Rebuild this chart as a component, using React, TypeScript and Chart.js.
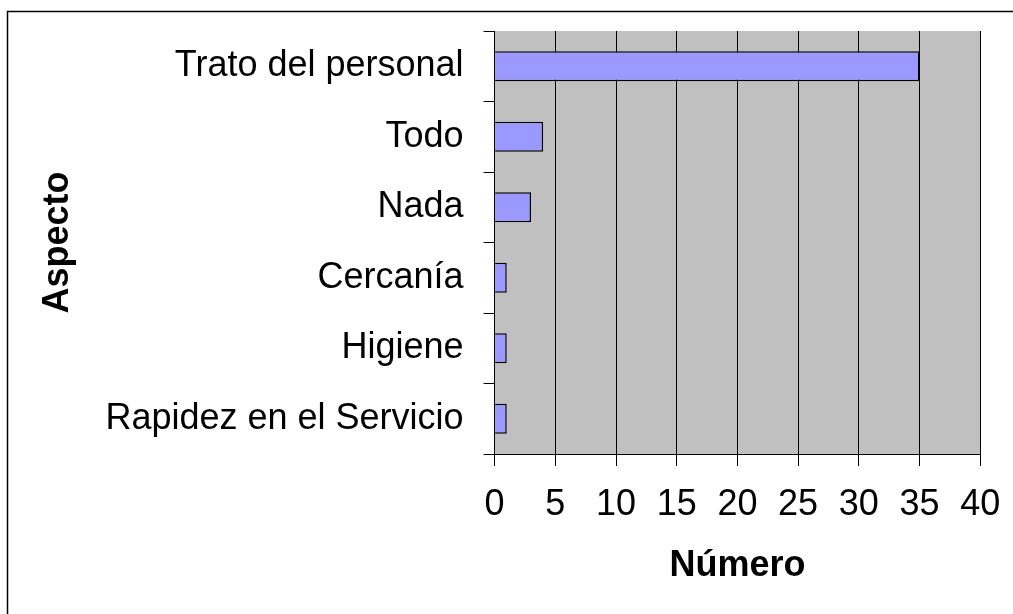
import React, { useEffect, useRef } from "react";
import { Chart, registerables } from "chart.js";

Chart.register(...registerables);

const categories = [
  "Trato del personal",
  "Todo",
  "Nada",
  "Cercanía",
  "Higiene",
  "Rapidez en el Servicio",
];
const counts = [35, 4, 3, 1, 1, 1];
const xTitle = "Número";
const yTitle = "Aspecto";

const FONT = "'Liberation Sans', Arial, sans-serif";

const bgPlugin = {
  id: "bgPlugin",
  beforeDraw(chart: any) {
    const { ctx, chartArea } = chart;
    ctx.save();
    ctx.fillStyle = "#ffffff";
    ctx.fillRect(0, 0, chart.width, chart.height);
    ctx.fillStyle = "#C0C0C0";
    ctx.fillRect(
      chartArea.left,
      chartArea.top,
      chartArea.right - chartArea.left,
      chartArea.bottom - chartArea.top
    );
    ctx.strokeStyle = "#000000";
    ctx.lineWidth = 1.5;
    ctx.strokeRect(7.5, 11.5, 1200, 800);
    ctx.restore();
  },
};

export default function App() {
  const ref = useRef<HTMLCanvasElement | null>(null);

  useEffect(() => {
    if (!ref.current) return;
    const chart = new Chart(ref.current, {
      type: "bar",
      data: {
        labels: categories,
        datasets: [
          {
            data: counts,
            backgroundColor: "#9999FF",
            borderColor: "#000000",
            borderWidth: 1.5,
            barPercentage: 0.425,
            categoryPercentage: 1,
          },
        ],
      },
      options: {
        indexAxis: "y",
        responsive: false,
        animation: false,
        layout: { padding: { left: 0, top: 31, right: 32.8, bottom: 0 } },
        plugins: {
          legend: { display: false },
          tooltip: { enabled: false },
        },
        scales: {
          x: {
            min: 0,
            max: 40,
            ticks: {
              stepSize: 5,
              color: "#000",
              padding: 17,
              font: { family: FONT, size: 36 },
              maxRotation: 0,
            },
            grid: {
              color: "#000",
              lineWidth: 1,
              tickLength: 12,
            },
            border: { color: "#000", width: 1 },
            title: {
              display: true,
              text: xTitle,
              color: "#000",
              font: { family: FONT, size: 36, weight: "bold" },
              padding: { top: 0, bottom: 26.4 },
            },
            afterFit(scale: any) {
              scale.height = 160;
              scale.paddingLeft = 0;
              scale.paddingRight = 0;
            },
          },
          y: {
            ticks: {
              color: "#000",
              padding: 20,
              font: { family: FONT, size: 36 },
            },
            grid: {
              drawOnChartArea: false,
              color: "#000",
              tickLength: 11,
              offset: true,
            },
            border: { color: "#000", width: 1 },
            title: {
              display: true,
              text: yTitle,
              color: "#000",
              font: { family: FONT, size: 36, weight: "bold" },
              padding: { top: 36.7, bottom: 0 },
            },
            afterFit(scale: any) {
              scale.width = 494.6;
              scale.paddingTop = 0;
              scale.paddingBottom = 0;
            },
          },
        },
      },
      plugins: [bgPlugin],
    });
    return () => chart.destroy();
  }, []);

  return (
    <div style={{ position: "fixed", left: 0, top: 0, width: 1013, height: 614 }}>
      <canvas ref={ref} width={1013} height={614} style={{ display: "block" }} />
    </div>
  );
}
